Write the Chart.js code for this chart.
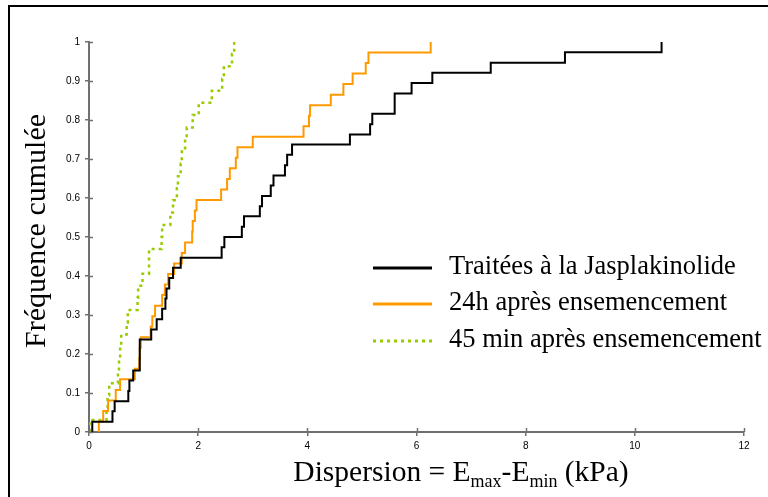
<!DOCTYPE html>
<html>
<head>
<meta charset="utf-8">
<script src="https://cdn.jsdelivr.net/npm/chart.js@4/dist/chart.umd.min.js"></script>
<style>
  html, body { margin: 0; padding: 0; background: #fff; }
  #wrap { position: relative; width: 768px; height: 497px; overflow: hidden; }
  #frame { position: absolute; left: 8px; top: 5px; width: 900px; height: 700px;
           border-left: 2px solid #000; border-top: 2px solid #000; }
  canvas { position: absolute; left: 0; top: 0; }
</style>
</head>
<body>
<div id="wrap">
  <div id="frame"></div>
  <canvas id="c" width="768" height="497"></canvas>
</div>
<script>
// ---- Data (step breakpoints of cumulative curves) ----
const seriesNames = [
  'Traitées à la Jasplakinolide',
  '24h après ensemencement',
  '45 min après ensemencement'
];

const jaspX = [0.06, 0.06, 0.43, 0.47, 0.72, 0.74, 0.81, 0.93, 0.93, 0.93, 1.14, 1.24, 1.34, 1.40, 1.42, 1.47, 1.54, 1.68,
  2.43, 2.48, 2.80, 2.84, 3.13, 3.17, 3.33, 3.38, 3.59, 3.63, 3.72, 4.78, 5.15, 5.19, 5.60, 5.60, 5.91, 6.29, 7.36, 8.72, 10.49];
const jaspY = [0, 0.026, 0.053, 0.079, 0.105, 0.132, 0.158, 0.184, 0.211, 0.237, 0.263, 0.289, 0.316, 0.342, 0.368, 0.395, 0.421, 0.447,
  0.474, 0.500, 0.526, 0.553, 0.579, 0.605, 0.632, 0.658, 0.684, 0.711, 0.737, 0.763, 0.789, 0.816, 0.842, 0.868, 0.895, 0.921, 0.947, 0.974, 1.0];

const h24X = [0.18, 0.18, 0.26, 0.35, 0.49, 0.57, 0.84, 0.92, 0.93, 0.95, 1.13, 1.16, 1.21, 1.34, 1.39, 1.45, 1.56, 1.70, 1.76,
  1.89, 1.90, 1.94, 1.97, 2.42, 2.53, 2.58, 2.69, 2.72, 3.00, 3.93, 4.03, 4.05, 4.43, 4.66, 4.83, 5.07, 5.12, 6.26];
const h24Y = [0, 0.027, 0.054, 0.081, 0.108, 0.135, 0.162, 0.189, 0.216, 0.243, 0.270, 0.297, 0.324, 0.351, 0.378, 0.405, 0.432, 0.459, 0.486,
  0.514, 0.541, 0.568, 0.595, 0.622, 0.649, 0.676, 0.703, 0.730, 0.757, 0.784, 0.811, 0.838, 0.865, 0.892, 0.919, 0.946, 0.973, 1.0];

const m45X = [0.01, 0.01, 0.32, 0.34, 0.37, 0.53, 0.55, 0.57, 0.59, 0.69, 0.71, 0.89, 0.90, 0.98, 1.10, 1.10, 1.33,
  1.34, 1.49, 1.54, 1.61, 1.63, 1.68, 1.70, 1.76, 1.79, 1.90, 2.01, 2.25, 2.44, 2.47, 2.62, 2.66];
const m45Y = [0, 0.031, 0.0625, 0.094, 0.125, 0.156, 0.188, 0.219, 0.25, 0.281, 0.313, 0.344, 0.375, 0.406, 0.438, 0.469, 0.5,
  0.531, 0.563, 0.594, 0.625, 0.656, 0.688, 0.719, 0.75, 0.781, 0.813, 0.844, 0.875, 0.906, 0.938, 0.969, 1.0];

const xTicks = [0, 2, 4, 6, 8, 10, 12];
const yTickLabels = ['0', '0.1', '0.2', '0.3', '0.4', '0.5', '0.6', '0.7', '0.8', '0.9', '1'];

const yTitle = 'Fréquence cumulée';

function pts(xs, ys) { return xs.map((x, i) => ({ x: x, y: ys[i] })); }

const colors = ['#000000', '#ff9900', '#99cc00'];
const AXIS = '#707070';
const SERIF = '"Liberation Serif", "Times New Roman", serif';

const overlay = {
  id: 'overlay',
  afterDraw(chart) {
    const ctx = chart.ctx;
    const a = chart.chartArea;
    const xs = chart.scales.x, ys = chart.scales.y;
    ctx.save();
    // inner halves of tick marks
    ctx.strokeStyle = AXIS;
    ctx.lineWidth = 1.5;
    ys.ticks.forEach(t => {
      const p = Math.round(ys.getPixelForValue(t.value)) + 0.5;
      ctx.beginPath(); ctx.moveTo(a.left, p); ctx.lineTo(a.left + 4, p); ctx.stroke();
    });
    xs.ticks.forEach(t => {
      const p = Math.round(xs.getPixelForValue(t.value)) + 0.5;
      ctx.beginPath(); ctx.moveTo(p, a.bottom); ctx.lineTo(p, a.bottom - 4); ctx.stroke();
    });

    // legend
    const legY = [268, 304, 341];
    chart.data.datasets.forEach((ds, i) => {
      ctx.beginPath();
      ctx.strokeStyle = ds.borderColor;
      ctx.lineWidth = 3;
      ctx.setLineDash(ds.borderDash || []);
      ctx.moveTo(373, legY[i]); ctx.lineTo(432, legY[i]);
      ctx.stroke();
      ctx.setLineDash([]);
      ctx.fillStyle = '#000';
      ctx.font = '26.5px ' + SERIF;
      ctx.textBaseline = 'middle';
      ctx.textAlign = 'left';
      ctx.fillText(ds.label, 449, legY[i] - 1);
    });

    // y title
    ctx.save();
    ctx.translate(37, 231);
    ctx.rotate(-Math.PI / 2);
    ctx.font = '30px ' + SERIF;
    ctx.textAlign = 'center';
    ctx.textBaseline = 'middle';
    ctx.fillStyle = '#000';
    ctx.fillText(yTitle, 0, 0);
    ctx.restore();

    // x title with subscripts
    const big = '29.5px ' + SERIF;
    const small = '18px ' + SERIF;
    const parts = [['Dispersion = E', big, 0], ['max', small, 6], ['-E', big, 0], ['min', small, 6], [' (kPa)', big, 0]];
    let total = 0;
    parts.forEach(p => { ctx.font = p[1]; total += ctx.measureText(p[0]).width; });
    let cx = 461 - total / 2;
    const base = 481;
    ctx.fillStyle = '#000';
    ctx.textAlign = 'left';
    ctx.textBaseline = 'alphabetic';
    parts.forEach(p => {
      ctx.font = p[1];
      ctx.fillText(p[0], cx, base + p[2]);
      cx += ctx.measureText(p[0]).width;
    });
    ctx.restore();
  }
};

new Chart(document.getElementById('c'), {
  type: 'line',
  data: {
    datasets: [
      { label: seriesNames[0], data: pts(jaspX, jaspY), borderColor: colors[0], borderWidth: 2, stepped: 'before', pointRadius: 0, fill: false },
      { label: seriesNames[1], data: pts(h24X, h24Y), borderColor: colors[1], borderWidth: 2, stepped: 'before', pointRadius: 0, fill: false },
      { label: seriesNames[2], data: pts(m45X, m45Y), borderColor: colors[2], borderWidth: 2.5, borderDash: [3, 4], stepped: 'before', pointRadius: 0, fill: false }
    ]
  },
  options: {
    responsive: false,
    animation: false,
    devicePixelRatio: 1,
    layout: { padding: { left: 0, top: 42, right: 24, bottom: 0 } },
    plugins: { legend: { display: false }, tooltip: { enabled: false }, title: { display: false } },
    scales: {
      x: {
        type: 'linear', min: 0, max: 12,
        afterBuildTicks: s => { s.ticks = xTicks.map(v => ({ value: v })); },
        afterFit: s => { s.height = 65; },
        ticks: { color: '#000', font: { family: '"Liberation Sans", Arial, sans-serif', size: 10 }, padding: 4, maxRotation: 0,
                 callback: v => String(v) },
        grid: { display: true, drawOnChartArea: false, drawTicks: true, tickLength: 4, color: AXIS, lineWidth: 1.5 },
        border: { display: true, color: AXIS, width: 2 }
      },
      y: {
        type: 'linear', min: 0, max: 1,
        afterBuildTicks: s => { s.ticks = yTickLabels.map((l, i) => ({ value: i / 10 })); },
        afterFit: s => { s.width = 89; },
        ticks: { color: '#000', font: { family: '"Liberation Sans", Arial, sans-serif', size: 10 }, padding: 5,
                 callback: (v, i) => yTickLabels[i] },
        grid: { display: true, drawOnChartArea: false, drawTicks: true, tickLength: 4, color: AXIS, lineWidth: 1.5 },
        border: { display: true, color: AXIS, width: 2 }
      }
    }
  },
  plugins: [overlay]
});
</script>
</body>
</html>
